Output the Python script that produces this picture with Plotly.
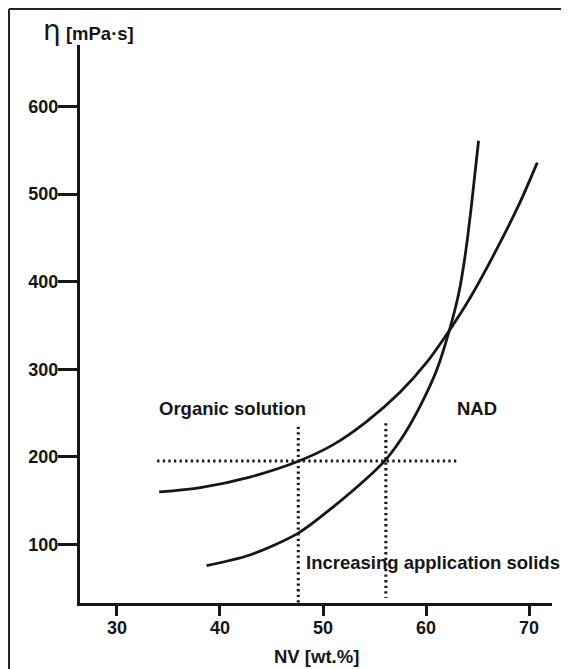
import plotly.graph_objects as go

# ---- data ----
nv_organic = [34.1, 38.1, 42.9, 47.6, 51.0, 54.2, 57.5, 60.0, 62.3, 64.3, 66.9, 69.1, 70.8]
eta_organic = [160, 165, 177, 195, 214, 240, 274, 307, 345, 382, 438, 490, 536]

nv_nad = [38.7, 42.9, 47.6, 51.0, 54.2, 56.1, 58.0, 59.6, 61.0, 62.3, 63.2, 63.8, 64.4, 65.1]
eta_nad = [76, 88, 113, 143, 175, 197, 228, 262, 298, 346, 388, 430, 486, 561]

ref_eta = 195.3
ref_eta_span = [33.9, 63.0]
nv_organic_ref = 47.6
nv_organic_ref_span = [234.5, 33.2]
nv_nad_ref = 56.1
nv_nad_ref_span = [238.4, 38.9]

x_ticks = [30, 40, 50, 60, 70]
y_ticks = [100, 200, 300, 400, 500, 600]

label_organic = "Organic solution"
label_nad = "NAD"
label_increase = "Increasing application solids"
x_title = "NV [wt.%]"

FONT = "Liberation Sans, Arial, sans-serif"
INK = "#161616"

fig = go.Figure()

# curves
curve = dict(color=INK, width=2.8, shape="spline", smoothing=0.8)
fig.add_trace(go.Scatter(x=nv_organic, y=eta_organic, mode="lines", line=curve, hoverinfo="skip"))
fig.add_trace(go.Scatter(x=nv_nad, y=eta_nad, mode="lines", line=curve, hoverinfo="skip"))

# dotted guides
dot = dict(color=INK, width=3, dash="2.3px,3.3px")
fig.add_trace(go.Scatter(x=ref_eta_span, y=[ref_eta, ref_eta], mode="lines",
                         line=dot, hoverinfo="skip"))
fig.add_trace(go.Scatter(x=[nv_organic_ref, nv_organic_ref], y=nv_organic_ref_span,
                         mode="lines", line=dot, hoverinfo="skip"))
fig.add_trace(go.Scatter(x=[nv_nad_ref, nv_nad_ref], y=nv_nad_ref_span,
                         mode="lines", line=dot, hoverinfo="skip"))

txt = dict(family=FONT, size=18.5, color=INK, weight="bold")
ann = [
    dict(x=33.85, y=255.8, xref="x", yref="y", text=label_organic,
         showarrow=False, xanchor="left", yanchor="middle", font=txt),
    dict(x=62.8, y=255.8, xref="x", yref="y", text=label_nad,
         showarrow=False, xanchor="left", yanchor="middle", font=txt),
    dict(x=48.2, y=78.9, xref="x", yref="y", text=label_increase,
         showarrow=False, xanchor="left", yanchor="middle", font=txt),
    dict(x=0.5, y=0, xref="paper", yref="paper", text=x_title,
         showarrow=False, xanchor="center", yanchor="middle", yshift=-53, font=txt),
    dict(x=0, y=1, xref="paper", yref="paper",
         text="<span style='font-family:DejaVu Sans;font-size:28px;font-weight:normal'>η</span> [mPa·s]",
         showarrow=False, xanchor="left", yanchor="middle", xshift=-39, yshift=15, font=txt),
]

fig.update_layout(
    width=561, height=661,
    margin=dict(l=72, r=17, t=37, b=66, pad=0),
    paper_bgcolor="white", plot_bgcolor="white",
    showlegend=False,
    annotations=ann,
    shapes=[
        dict(type="line", xref="paper", yref="paper", x0=-0.1504, x1=-0.1504, y0=-0.2, y1=1.0645,
             line=dict(color="#222", width=2)),
        dict(type="line", xref="paper", yref="paper", x0=-0.1504, x1=1.2, y0=1.0645, y1=1.0645,
             line=dict(color="#222", width=2)),
    ],
)

fig.update_xaxes(range=[26.41, 72.23], tickvals=x_ticks, ticktext=[str(v) for v in x_ticks],
                 showgrid=False, zeroline=False, showline=True, linecolor=INK, linewidth=3,
                 ticks="outside", ticklen=10, tickwidth=3, tickcolor=INK,
                 ticklabelstandoff=-4,
                 tickfont=dict(family=FONT, size=18, color=INK, weight="bold"))
fig.update_yaxes(range=[33.2, 670.3], tickvals=y_ticks, ticktext=[str(v) for v in y_ticks],
                 showgrid=False, zeroline=False, showline=True, linecolor=INK, linewidth=3,
                 ticks="outside", ticklen=19, tickwidth=3, tickcolor=INK,
                 ticklabelstandoff=-4,
                 tickfont=dict(family=FONT, size=18, color=INK, weight="bold"))

fig.write_html("out.html")
